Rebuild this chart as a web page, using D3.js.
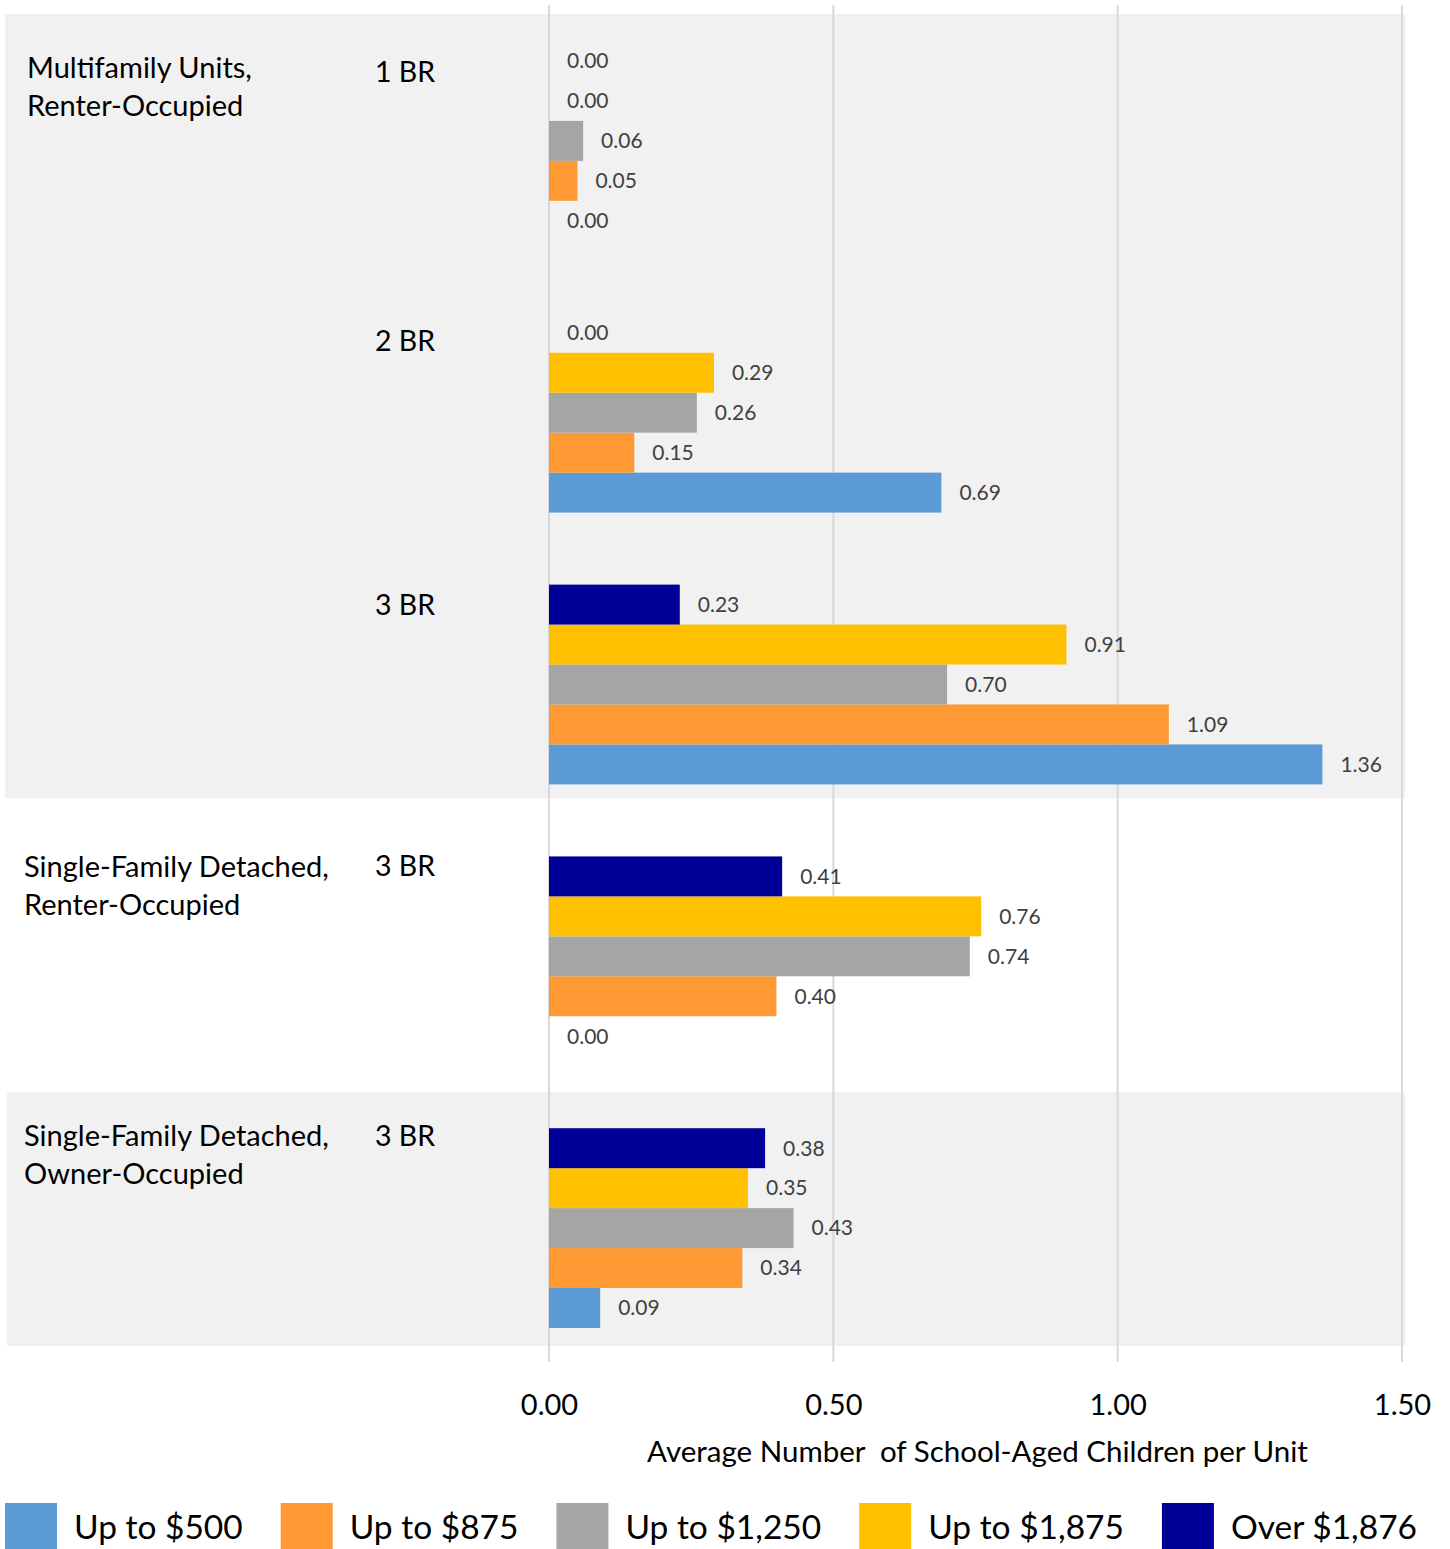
<!DOCTYPE html>
<html lang="en">
<head>
<meta charset="UTF-8">
<title>School-aged children per unit</title>
<script src="https://d3js.org/d3.v7.min.js"></script>
<style>
  body { margin: 0; background: #fff; }
  text { font-family: Lato, "Noto Sans", sans-serif; }
</style>
</head>
<body>
<script>
// series, top to bottom inside each group is reversed (Over $1,876 on top)
var series = ["Up to $500", "Up to $875", "Up to $1,250", "Up to $1,875", "Over $1,876"];
var colors = ["#5B9BD5", "#FF9933", "#A5A5A5", "#FFC000", "#000099"];

var groups = ["mf1", "mf2", "mf3", "sfr3", "sfo3"];
var bedrooms = ["1 BR", "2 BR", "3 BR", "3 BR", "3 BR"];
var housingTypes = [
  ["Multifamily Units,", "Renter-Occupied"],
  ["Single-Family Detached,", "Renter-Occupied"],
  ["Single-Family Detached,", "Owner-Occupied"]
];

var mf1 = [0.00, 0.05, 0.06, 0.00, 0.00];
var mf2 = [0.69, 0.15, 0.26, 0.29, 0.00];
var mf3 = [1.36, 1.09, 0.70, 0.91, 0.23];
var sfr3 = [0.00, 0.40, 0.74, 0.76, 0.41];
var sfo3 = [0.09, 0.34, 0.43, 0.35, 0.38];
var values = [mf1, mf2, mf3, sfr3, sfo3];

var xTicks = [0, 0.5, 1.0, 1.5];
var xTitle = "Average Number  of School-Aged Children per Unit";

var W = 1450, H = 1549;
var svg = d3.select("body").append("svg").attr("width", W).attr("height", H);

var x = d3.scaleLinear().domain([0, 1.5]).range([549, 1402]);
var y = d3.scaleBand().domain(groups).range([5, 1364]).paddingInner(0.265).paddingOuter(0.1325);
var ySub = d3.scaleBand().domain(d3.range(5).reverse()).range([0, y.bandwidth()]);

// shaded bands
svg.append("rect").attr("x", 5).attr("width", 1400)
  .attr("y", y("mf1") - 27).attr("height", y("mf3") + y.bandwidth() + 14 - (y("mf1") - 27))
  .attr("fill", "#F1F1F1");
svg.append("rect").attr("x", 7).attr("width", 1398)
  .attr("y", y("sfo3") - 36).attr("height", y.bandwidth() + 54)
  .attr("fill", "#F1F1F1");

// grid
svg.append("g").selectAll("line").data(xTicks).join("line")
  .attr("x1", d => x(d)).attr("x2", d => x(d))
  .attr("y1", 5).attr("y2", 1362)
  .attr("stroke", "#D9D9D9").attr("stroke-width", 2);

// bars
var g = svg.append("g").selectAll("g").data(groups).join("g")
  .attr("transform", d => "translate(0," + y(d) + ")");

g.selectAll("rect").data((d, i) => values[i].map((v, j) => ({v: v, j: j})))
  .join("rect")
  .attr("x", x(0)).attr("y", d => ySub(d.j))
  .attr("width", d => x(d.v) - x(0)).attr("height", ySub.bandwidth())
  .attr("fill", d => colors[d.j]);

g.selectAll("text.val").data((d, i) => values[i].map((v, j) => ({v: v, j: j})))
  .join("text").attr("class", "val")
  .attr("x", d => x(d.v) + 18).attr("y", d => ySub(d.j) + ySub.bandwidth() / 2)
  .attr("dy", "0.35em")
  .attr("font-size", 21).attr("fill", "#404040")
  .text(d => d3.format(".2f")(d.v));

// bedroom labels
var brDy = [31, 28, 20, 10, 8];
svg.append("g").selectAll("text").data(groups).join("text")
  .attr("x", 375).attr("y", (d, i) => y(d) + brDy[i])
  .attr("dy", "0.35em").attr("font-size", 28.5).attr("fill", "#000")
  .text((d, i) => bedrooms[i]);

// housing type labels
var typeAt = [["mf1", 27, 27], ["sfr3", 24, 10], ["sfo3", 24, 8]];
housingTypes.forEach(function(lines, i) {
  var t = svg.append("text").attr("font-size", 29).attr("fill", "#000")
    .attr("x", typeAt[i][1]).attr("y", y(typeAt[i][0]) + typeAt[i][2]);
  lines.forEach(function(s, k) {
    t.append("tspan").attr("x", typeAt[i][1]).attr("dy", k === 0 ? "0.35em" : 38).text(s);
  });
});

// x axis
var xAxis = d3.axisBottom(x).tickValues(xTicks).tickFormat(d3.format(".2f")).tickSize(0).tickPadding(0);
var ax = svg.append("g").attr("transform", "translate(0,1405)").call(xAxis);
ax.select(".domain").remove();
ax.selectAll("text").attr("font-size", 29).attr("fill", "#000").attr("dy", "0.35em")
  .style("font-family", "Lato, 'Noto Sans', sans-serif");

svg.append("text").attr("x", (x(0) + x(1.5)) / 2 + 2).attr("y", 1452).attr("dy", "0.35em")
  .attr("text-anchor", "middle").attr("font-size", 29.5).attr("fill", "#000")
  .style("white-space", "pre")
  .text(xTitle);

// legend
var lx = 5;
var legend = svg.append("g");
series.forEach(function(s, i) {
  legend.append("rect").attr("x", lx).attr("y", 1503).attr("width", 52).attr("height", 46)
    .attr("fill", colors[i]);
  var t = legend.append("text").attr("x", lx + 69).attr("y", 1527).attr("dy", "0.35em")
    .attr("font-size", 33.5).attr("fill", "#000").text(s);
  lx = lx + 69 + t.node().getComputedTextLength() + 38;
});
</script>
</body>
</html>
